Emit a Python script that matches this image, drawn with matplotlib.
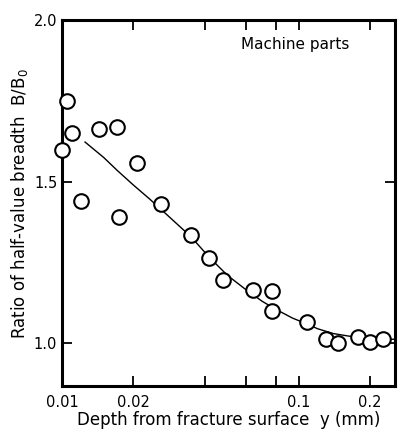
import numpy as np
import matplotlib
matplotlib.use('Agg')
import matplotlib.pyplot as plt

# measured points (depth in mm, ratio B/B0)
depth = [0.0105, 0.0110, 0.0100, 0.0143, 0.0170, 0.0207, 0.0120, 0.0261, 0.0174,
         0.0350, 0.0416, 0.0476, 0.0640, 0.0767, 0.0774, 0.1083, 0.1304, 0.1462,
         0.1776, 0.2004, 0.2270]
ratio = [1.749, 1.652, 1.598, 1.663, 1.670, 1.559, 1.440, 1.430, 1.391,
         1.335, 1.264, 1.196, 1.164, 1.163, 1.101, 1.066, 1.013, 1.002,
         1.020, 1.004, 1.013]

# fitted trend line
curve_x = [0.0125, 0.015, 0.0171, 0.020, 0.0234, 0.028, 0.035, 0.042, 0.050,
           0.060, 0.070, 0.080, 0.094, 0.108, 0.120, 0.140, 0.163, 0.20, 0.255]
curve_y = [1.623, 1.575, 1.535, 1.490, 1.447, 1.395, 1.330, 1.265, 1.210,
           1.165, 1.130, 1.105, 1.078, 1.060, 1.045, 1.030, 1.022, 1.016, 1.012]

xticks = [0.01, 0.02, 0.04, 0.06, 0.08, 0.1, 0.2]
xlabels = ['0.01', '0.02', '', '', '', '0.1', '0.2']
yticks = [1.0, 1.5, 2.0]
ylabels = ['1.0', '1.5', '2.0']

fig = plt.figure(figsize=(4.06, 4.32), dpi=100)
ax = fig.add_axes([0.153, 0.106, 0.82, 0.847])

ax.plot(curve_x, curve_y, c='black', lw=1.0, zorder=2)
ax.plot(depth, ratio, 'o', ms=10.5, mfc='white', mec='black', mew=1.5,
        zorder=3, clip_on=False)

ax.set_xscale('log')
ax.set_xlim(0.01, 0.255)
ax.set_ylim(0.867, 2.0)
ax.set_xticks(xticks)
ax.set_xticklabels(xlabels)
ax.xaxis.set_minor_locator(matplotlib.ticker.NullLocator())
ax.set_yticks(yticks)
ax.set_yticklabels(ylabels)

ax.tick_params(direction='in', length=7, width=1.3, top=True, right=True,
               labelsize=10.5, colors='black')
ax.tick_params(axis='x', pad=6)
for s in ax.spines.values():
    s.set_linewidth(2.2)

ax.text(0.7, 0.955, 'Machine parts', transform=ax.transAxes, fontsize=11,
        ha='center', va='top')
ax.set_ylabel('Ratio of half-value breadth  B/B$_0$', fontsize=12, labelpad=3)
ax.set_xlabel('Depth from fracture surface  y (mm)', fontsize=12, labelpad=1)

fig.savefig('out.png', dpi=100)
